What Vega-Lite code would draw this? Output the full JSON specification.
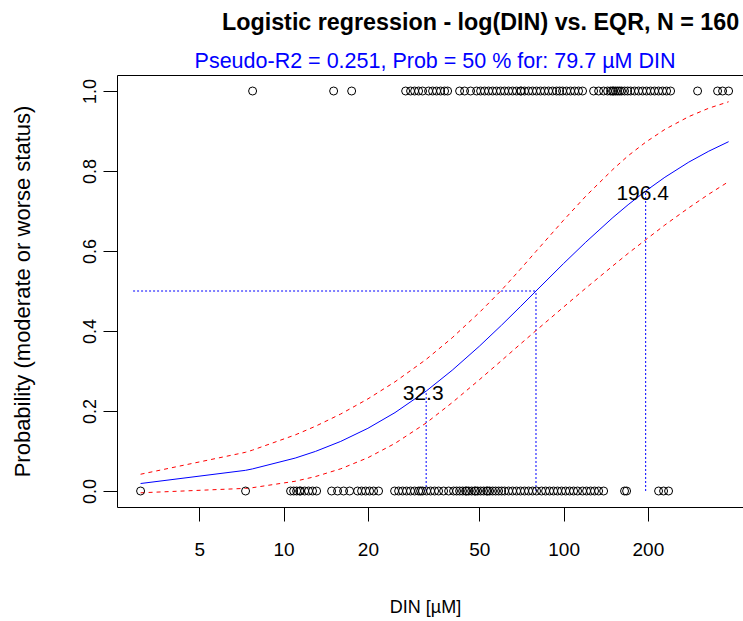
{
  "$schema": "https://vega.github.io/schema/vega-lite/v6.json",
  "width": 626,
  "height": 432,
  "autosize": {"type": "none"},
  "padding": {"left": 117, "top": 75, "right": 0, "bottom": 114},
  "background": "white",
  "config": {"font": "Liberation Sans", "view": {"stroke": null}, "axis": {"grid": false}},
  "title": {"text": "Logistic regression - log(DIN) vs. EQR, N = 160", "anchor": "start", "frame": "group", "dx": 105, "dy": -11, "offset": 4, "fontSize": 23.3, "fontWeight": "bold", "color": "black", "font": "Liberation Sans"},
  "datasets": {
    "obs": [
      {"din": 7.75, "status": 1}, {"din": 15.09, "status": 1}, {"din": 17.5, "status": 1}, {"din": 27.28, "status": 1},
      {"din": 28.41, "status": 1}, {"din": 29.37, "status": 1}, {"din": 30.35, "status": 1}, {"din": 31.36, "status": 1},
      {"din": 32.95, "status": 1}, {"din": 34.05, "status": 1}, {"din": 35.19, "status": 1}, {"din": 36.37, "status": 1},
      {"din": 37.58, "status": 1}, {"din": 38.53, "status": 1}, {"din": 42.52, "status": 1}, {"din": 44.3, "status": 1},
      {"din": 46.55, "status": 1}, {"din": 48.91, "status": 1}, {"din": 50.54, "status": 1}, {"din": 52.23, "status": 1},
      {"din": 53.97, "status": 1}, {"din": 55.78, "status": 1}, {"din": 57.64, "status": 1}, {"din": 59.57, "status": 1},
      {"din": 61.55, "status": 1}, {"din": 63.61, "status": 1}, {"din": 65.73, "status": 1}, {"din": 67.93, "status": 1},
      {"din": 70.2, "status": 1}, {"din": 72.54, "status": 1}, {"din": 74.99, "status": 1}, {"din": 77.48, "status": 1},
      {"din": 80.08, "status": 1}, {"din": 82.76, "status": 1}, {"din": 85.52, "status": 1}, {"din": 88.38, "status": 1},
      {"din": 91.34, "status": 1}, {"din": 94.41, "status": 1}, {"din": 96.76, "status": 1}, {"din": 99.17, "status": 1},
      {"din": 102.5, "status": 1}, {"din": 105.9, "status": 1}, {"din": 109.5, "status": 1}, {"din": 113.1, "status": 1},
      {"din": 116.9, "status": 1}, {"din": 128.0, "status": 1}, {"din": 133.4, "status": 1}, {"din": 139.0, "status": 1},
      {"din": 143.6, "status": 1}, {"din": 147.2, "status": 1}, {"din": 150.9, "status": 1}, {"din": 153.4, "status": 1},
      {"din": 155.9, "status": 1}, {"din": 158.5, "status": 1}, {"din": 161.1, "status": 1}, {"din": 165.1, "status": 1},
      {"din": 169.3, "status": 1}, {"din": 173.5, "status": 1}, {"din": 179.3, "status": 1}, {"din": 185.3, "status": 1},
      {"din": 191.5, "status": 1}, {"din": 197.9, "status": 1}, {"din": 204.5, "status": 1}, {"din": 211.3, "status": 1},
      {"din": 218.4, "status": 1}, {"din": 225.7, "status": 1}, {"din": 233.3, "status": 1}, {"din": 241.1, "status": 1},
      {"din": 301.0, "status": 1}, {"din": 354.8, "status": 1}, {"din": 369.7, "status": 1}, {"din": 388.5, "status": 1},
      {"din": 149.6, "status": 1}, {"din": 70.5, "status": 1},
      {"din": 3.085, "status": 0}, {"din": 7.315, "status": 0}, {"din": 10.59, "status": 0}, {"din": 10.86, "status": 0},
      {"din": 11.13, "status": 0}, {"din": 11.5, "status": 0}, {"din": 11.89, "status": 0}, {"din": 12.28, "status": 0},
      {"din": 12.69, "status": 0}, {"din": 13.12, "status": 0}, {"din": 14.84, "status": 0}, {"din": 15.59, "status": 0},
      {"din": 16.38, "status": 0}, {"din": 17.21, "status": 0}, {"din": 18.38, "status": 0}, {"din": 18.99, "status": 0},
      {"din": 19.63, "status": 0}, {"din": 20.28, "status": 0}, {"din": 20.96, "status": 0}, {"din": 21.84, "status": 0},
      {"din": 24.91, "status": 0}, {"din": 25.75, "status": 0}, {"din": 26.61, "status": 0}, {"din": 27.5, "status": 0},
      {"din": 28.41, "status": 0}, {"din": 29.37, "status": 0}, {"din": 30.35, "status": 0}, {"din": 31.36, "status": 0},
      {"din": 32.41, "status": 0}, {"din": 33.5, "status": 0}, {"din": 34.62, "status": 0}, {"din": 35.78, "status": 0},
      {"din": 37.28, "status": 0}, {"din": 38.85, "status": 0}, {"din": 40.46, "status": 0}, {"din": 41.48, "status": 0},
      {"din": 42.52, "status": 0}, {"din": 43.58, "status": 0}, {"din": 44.67, "status": 0}, {"din": 45.79, "status": 0},
      {"din": 46.94, "status": 0}, {"din": 48.11, "status": 0}, {"din": 49.31, "status": 0}, {"din": 50.54, "status": 0},
      {"din": 51.81, "status": 0}, {"din": 53.09, "status": 0}, {"din": 54.42, "status": 0}, {"din": 55.78, "status": 0},
      {"din": 57.17, "status": 0}, {"din": 58.61, "status": 0}, {"din": 60.06, "status": 0}, {"din": 61.55, "status": 0},
      {"din": 63.61, "status": 0}, {"din": 65.73, "status": 0}, {"din": 67.93, "status": 0}, {"din": 70.2, "status": 0},
      {"din": 72.54, "status": 0}, {"din": 74.99, "status": 0}, {"din": 77.48, "status": 0}, {"din": 80.08, "status": 0},
      {"din": 83.44, "status": 0}, {"din": 86.24, "status": 0}, {"din": 89.13, "status": 0}, {"din": 92.11, "status": 0},
      {"din": 95.19, "status": 0}, {"din": 98.37, "status": 0}, {"din": 101.7, "status": 0}, {"din": 105.1, "status": 0},
      {"din": 108.6, "status": 0}, {"din": 112.2, "status": 0}, {"din": 116.9, "status": 0}, {"din": 120.8, "status": 0},
      {"din": 124.9, "status": 0}, {"din": 129.0, "status": 0}, {"din": 133.4, "status": 0}, {"din": 139.0, "status": 0},
      {"din": 165.1, "status": 0}, {"din": 167.9, "status": 0}, {"din": 218.4, "status": 0}, {"din": 227.6, "status": 0},
      {"din": 237.1, "status": 0}, {"din": 45.04, "status": 0}, {"din": 48.51, "status": 0}, {"din": 53.53, "status": 0},
      {"din": 11.41, "status": 0}, {"din": 30.85, "status": 0}
    ],
    "fit": [
      {"din": 3.085, "fit": 0.0187, "lwr": -0.0045, "upr": 0.0419},
      {"din": 7.315, "fit": 0.0517, "lwr": 0.0066, "upr": 0.0968},
      {"din": 7.75, "fit": 0.0553, "lwr": 0.0083, "upr": 0.1023},
      {"din": 11, "fit": 0.0823, "lwr": 0.0244, "upr": 0.1402},
      {"din": 13, "fit": 0.099, "lwr": 0.0361, "upr": 0.1619},
      {"din": 16, "fit": 0.124, "lwr": 0.0555, "upr": 0.1925},
      {"din": 20, "fit": 0.1567, "lwr": 0.0832, "upr": 0.2302},
      {"din": 25, "fit": 0.196, "lwr": 0.119, "upr": 0.273},
      {"din": 32.3, "fit": 0.2497, "lwr": 0.17, "upr": 0.329},
      {"din": 40, "fit": 0.3018, "lwr": 0.221, "upr": 0.383},
      {"din": 50, "fit": 0.3618, "lwr": 0.278, "upr": 0.446},
      {"din": 60, "fit": 0.4144, "lwr": 0.326, "upr": 0.502},
      {"din": 70, "fit": 0.4605, "lwr": 0.367, "upr": 0.554},
      {"din": 79.7, "fit": 0.5, "lwr": 0.401, "upr": 0.599},
      {"din": 100, "fit": 0.5687, "lwr": 0.46, "upr": 0.677},
      {"din": 120, "fit": 0.622, "lwr": 0.507, "upr": 0.737},
      {"din": 150, "fit": 0.6837, "lwr": 0.563, "upr": 0.804},
      {"din": 170, "fit": 0.7157, "lwr": 0.594, "upr": 0.838},
      {"din": 196.4, "fit": 0.75, "lwr": 0.628, "upr": 0.872},
      {"din": 230, "fit": 0.7843, "lwr": 0.665, "upr": 0.904},
      {"din": 280, "fit": 0.8222, "lwr": 0.708, "upr": 0.936},
      {"din": 330, "fit": 0.8495, "lwr": 0.742, "upr": 0.957},
      {"din": 388.5, "fit": 0.8733, "lwr": 0.7735, "upr": 0.9731}
    ],
    "refs": [
      {"x": 2.9, "x2": 79.7, "y": 0.5, "y2": 0.5},
      {"x": 79.7, "x2": 79.7, "y": 0, "y2": 0.5},
      {"x": 32.3, "x2": 32.3, "y": 0, "y2": 0.25},
      {"x": 196.4, "x2": 196.4, "y": 0, "y2": 0.75}
    ],
    "labels": [
      {"din": 32.3, "p": 0.25, "label": "32.3"},
      {"din": 196.4, "p": 0.75, "label": "196.4"}
    ]
  },
  "layer": [
    {
      "data": {"name": "refs"},
      "mark": {"type": "rule", "color": "#0000ff", "strokeWidth": 1, "strokeDash": [2, 2]},
      "encoding": {
        "x": {"field": "x", "type": "quantitative", "scale": {"type": "log", "domain": [2.541, 437.3], "nice": false},
          "axis": {"orient": "top", "ticks": false, "labels": false, "domain": true, "domainColor": "black", "domainWidth": 1,
            "title": "Pseudo-R2 = 0.251, Prob = 50 % for: 79.7 µM DIN", "titleColor": "#0000ff", "titleFontSize": 21.5,
            "titleFontWeight": "normal", "titleX": 317.5, "titleY": -14, "titleBaseline": "middle", "titleAlign": "center"}},
        "x2": {"field": "x2"},
        "y": {"field": "y", "type": "quantitative", "scale": {"domain": [-0.04, 1.04], "nice": false, "zero": false},
          "axis": {"orient": "left", "values": [0, 0.2, 0.4, 0.6, 0.8, 1], "format": ".1f", "tickSize": 14, "tickColor": "black",
            "domainColor": "black", "domainWidth": 1, "labelFontSize": 18, "labelColor": "black", "labelAngle": 270,
            "labelAlign": "center", "labelBaseline": "alphabetic", "labelPadding": 8,
            "title": "Probability (moderate or worse status)", "titleFontSize": 22, "titleFontWeight": "normal", "titleColor": "black",
            "titleAngle": 270, "titleX": -95, "titleY": 216, "titleAlign": "center", "titleBaseline": "middle"}},
        "y2": {"field": "y2"}
      }
    },
    {
      "data": {"name": "fit"},
      "mark": {"type": "line", "color": "red", "strokeWidth": 1, "strokeDash": [4, 4]},
      "encoding": {
        "x": {"field": "din", "type": "quantitative",
          "axis": {"orient": "bottom", "values": [5, 10, 20, 50, 100, 200], "format": "d", "tickSize": 14, "tickColor": "black",
            "domainColor": "black", "domainWidth": 1, "labelFontSize": 19, "labelColor": "black", "labelPadding": 19,
            "labelBaseline": "top", "labelFlush": false,
            "title": "DIN [µM]", "titleFontSize": 18, "titleFontWeight": "normal", "titleColor": "black",
            "titleX": 308, "titleY": 100, "titleAlign": "center", "titleBaseline": "middle"}},
        "y": {"field": "upr", "type": "quantitative"}
      }
    },
    {
      "data": {"name": "fit"},
      "mark": {"type": "line", "color": "red", "strokeWidth": 1, "strokeDash": [4, 4]},
      "encoding": {
        "x": {"field": "din", "type": "quantitative", "axis": null},
        "y": {"field": "lwr", "type": "quantitative"}
      }
    },
    {
      "data": {"name": "fit"},
      "mark": {"type": "line", "color": "#0000ff", "strokeWidth": 1},
      "encoding": {
        "x": {"field": "din", "type": "quantitative", "axis": null},
        "y": {"field": "fit", "type": "quantitative"}
      }
    },
    {
      "data": {"name": "obs"},
      "mark": {"type": "point", "shape": "circle", "filled": false, "color": "black", "strokeWidth": 1, "size": 64, "opacity": 1},
      "encoding": {
        "x": {"field": "din", "type": "quantitative", "axis": null},
        "y": {"field": "status", "type": "quantitative"}
      }
    },
    {
      "data": {"name": "labels"},
      "mark": {"type": "text", "fontSize": 21, "color": "black", "align": "center", "baseline": "middle", "dx": -3, "dy": 3},
      "encoding": {
        "x": {"field": "din", "type": "quantitative", "axis": null},
        "y": {"field": "p", "type": "quantitative"},
        "text": {"field": "label"}
      }
    }
  ],
  "resolve": {"axis": {"x": "independent"}}
}
